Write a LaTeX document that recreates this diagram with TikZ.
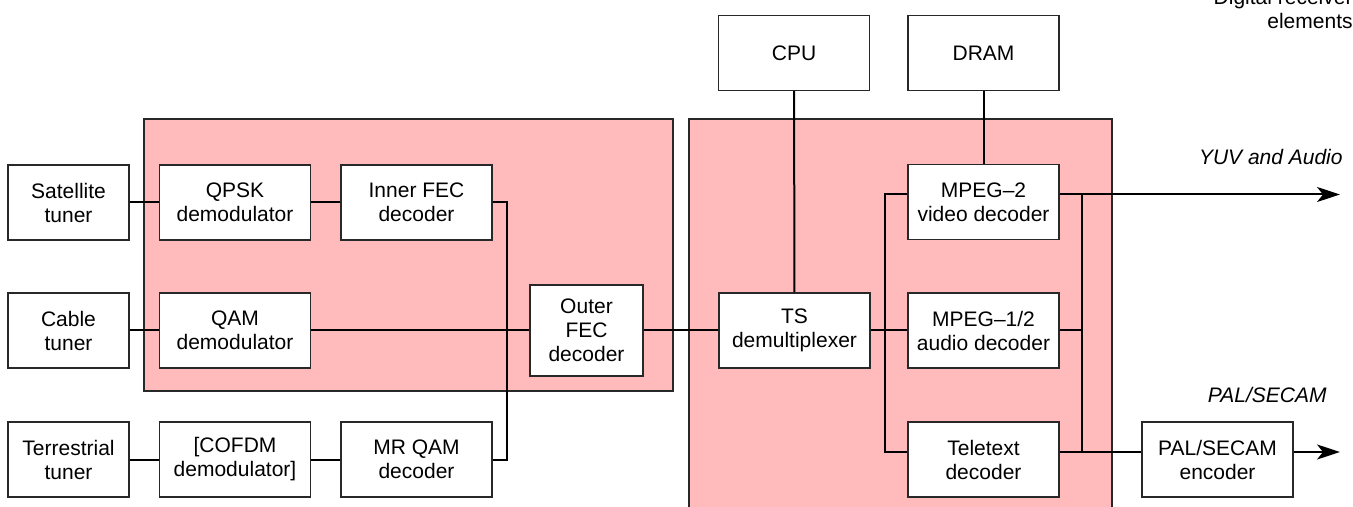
\documentclass[tikz,border=0pt]{standalone}
\usepackage{fontspec}
\setmainfont{Liberation Sans}
\usepackage{tikz}
\usetikzlibrary{
  arrows.meta,
  positioning
}
\definecolor{ZonePink}{RGB}{255, 187, 187}
\definecolor{EdgeGray}{RGB}{40, 40, 40}
\tikzset{
    block/.style={rectangle, draw=EdgeGray, fill=white, line width=0.6pt,
        minimum width=75.5pt, minimum height=37.5pt, inner sep=1pt,
        align=center, font=\fontsize{10.5}{12}\selectfont},
    tunerbox/.style={block, minimum width=60.5pt},
    zone/.style={draw=EdgeGray, fill=ZonePink, line width=0.6pt},
    wire/.style={line width=1pt, black},
    outarrow/.style={wire, -{Stealth[length=11.5pt, width=7.5pt, inset=3pt]}},
    tag/.style={inner sep=0pt, font=\fontsize{10.5}{12}\selectfont\itshape}
}

\begin{document}
\begin{tikzpicture}[x=0.5pt, y=-0.5pt]
    \useasboundingbox (0,0) rectangle (1353,507);
    % shaded chip areas
    \draw[zone] (144,119) rectangle (673,391);
    \draw[zone] (689,119) rectangle (1112,512);

    % tuners and demodulators
    \node[tunerbox] (sat) at (68.5,202.5) {Satellite\\tuner};
    \node[tunerbox] (cable) at (68.5,330.5) {Cable\\tuner};
    \node[tunerbox] (terr) at (68.5,459.5) {Terrestrial\\tuner};
    \node[block] (qpsk) at (235,202.5) {QPSK\\demodulator};
    \node[block] (qam) at (235,330.5) {QAM\\demodulator};
    \node[block] (cofdm) at (235,459.5) {[COFDM\\demodulator]};
    \node[block] (innerfec) at (416.5,202.5) {Inner FEC\\decoder};
    \node[block] (mrqam) at (416.5,459.5) {MR QAM\\decoder};
    \node[block, minimum width=56.5pt, minimum height=45.5pt] (outerfec) at (586.5,330.5) {Outer\\FEC\\decoder};

    % back end
    \node[block] (cpu) at (794,53) {CPU};
    \node[block] (dram) at (983.5,53) {DRAM};
    \node[block] (tsdemux) at (794.5,330.5) {TS\\demultiplexer};
    \node[block] (video) at (983.5,202) {MPEG–2\\video decoder};
    \node[block] (audio) at (983.5,330.5) {MPEG–1/2\\audio decoder};
    \node[block] (teletext) at (983.5,459.5) {Teletext\\decoder};
    \node[block] (palenc) at (1217.5,459.5) {PAL/SECAM\\encoder};

    % labels
    \node[tag, anchor=base east] (yuvlabel) at (1343,165) {YUV and Audio};
    \node[tag, anchor=base east] (pallabel) at (1327,402) {PAL/SECAM};
    \node[inner sep=0pt, anchor=south east, align=right,
        font=\fontsize{10.5}{12}\selectfont] (title) at (1353,29) {Digital receiver\\elements};

    % bus points
    \coordinate (fecbus) at (507,330.5);
    \coordinate (lbustop) at (885,194.5);
    \coordinate (lbusmid) at (885,330.5);
    \coordinate (lbusbot) at (885,452);
    \coordinate (rbustop) at (1082,194.5);
    \coordinate (rbusmid) at (1082,330.5);
    \coordinate (rbusbot) at (1082,452);
    \coordinate (yuvout) at (1340,194.5);
    \coordinate (palout) at (1340,452);

    % front end wiring
    \draw[wire] (sat) -- (qpsk);
    \draw[wire] (qpsk) -- (innerfec);
    \draw[wire] (cable) -- (qam);
    \draw[wire] (terr) -- (cofdm);
    \draw[wire] (cofdm) -- (mrqam);
    \draw[wire] (innerfec.east) -| (fecbus) |- (mrqam.east);
    \draw[wire] (qam) -- (outerfec);
    \draw[wire] (outerfec) -- (tsdemux);

    % back end wiring
    \draw[wire] (cpu) -- (tsdemux);
    \draw[wire] (dram) -- (video);
    \draw[wire] (tsdemux.east) -- (lbusmid) -- (audio.west);
    \draw[wire] (video.west |- lbustop) -- (lbustop) -- (lbusbot) -- (teletext.west |- lbusbot);
    \draw[wire] (audio.east) -- (rbusmid);
    \draw[wire] (rbustop) -- (rbusbot);
    \draw[outarrow] (video.east |- yuvout) -- (yuvout);
    \draw[wire] (teletext.east |- rbusbot) -- (palenc.west |- rbusbot);
    \draw[outarrow] (palenc.east |- palout) -- (palout);
\end{tikzpicture}
\end{document}
